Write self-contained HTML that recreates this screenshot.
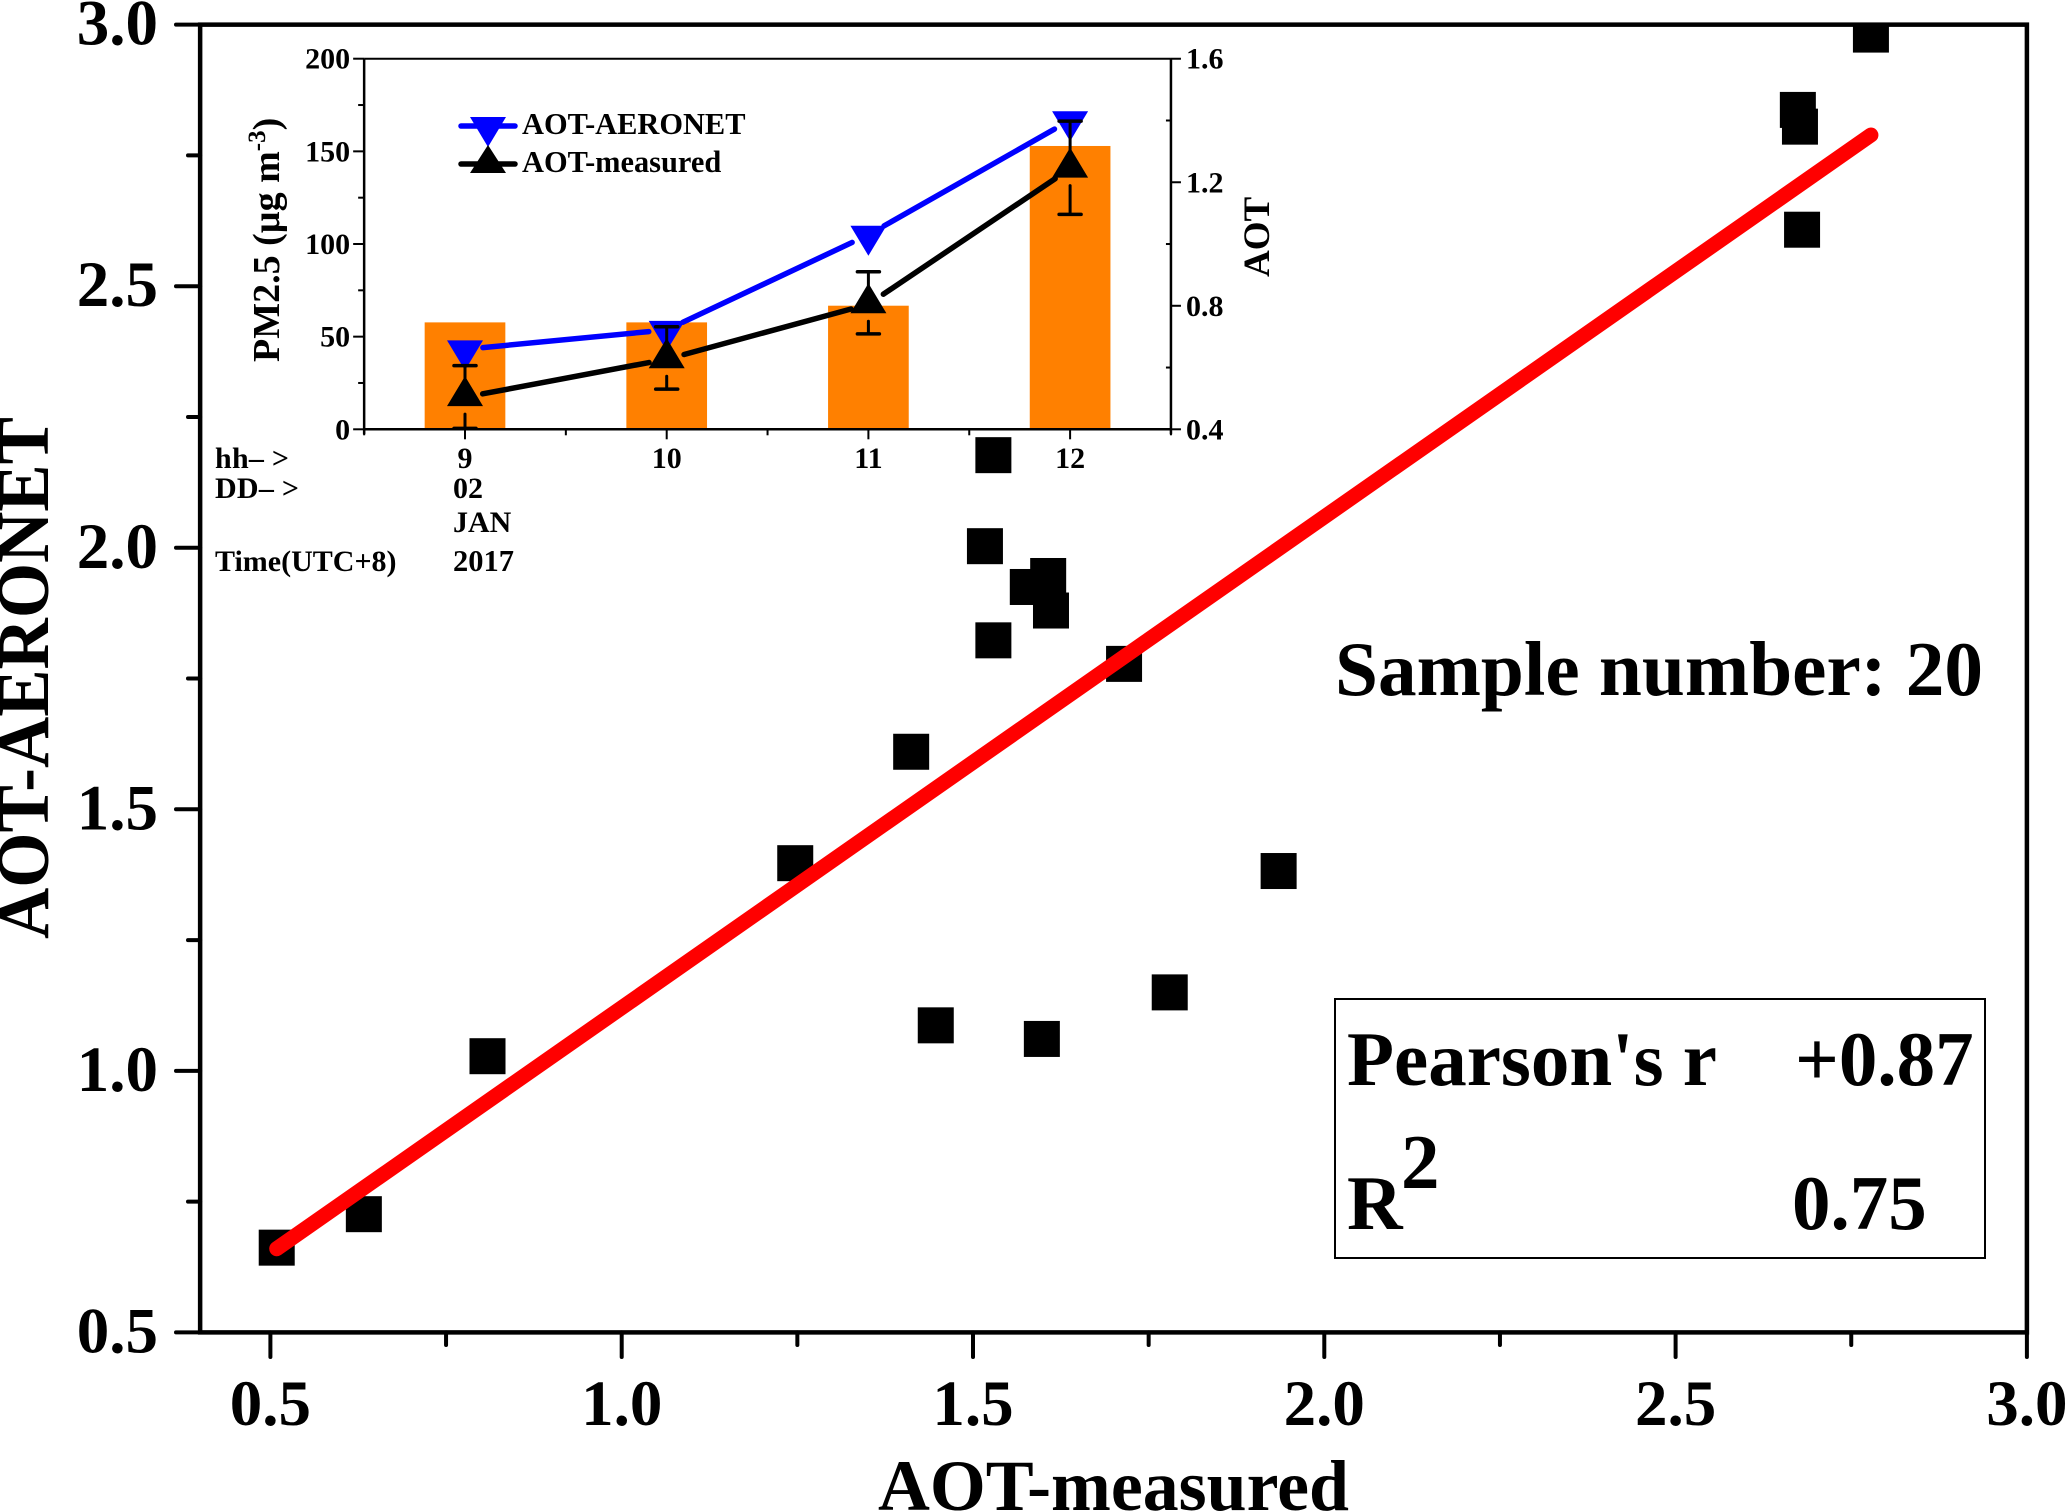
<!DOCTYPE html>
<html lang="en">
<head>
<meta charset="utf-8">
<title>AOT-measured vs AOT-AERONET scatter plot with inset</title>
<style>
html,body{margin:0;padding:0;background:#fff;}
body{width:2067px;height:1511px;overflow:hidden;}
svg{display:block;}
text{font-family:"Liberation Serif",serif;font-weight:bold;fill:#000;}
</style>
</head>
<body>
<svg id="chart" xmlns="http://www.w3.org/2000/svg" width="2067" height="1511" viewBox="0 0 2067 1511">
  <defs>
    <clipPath id="plot-clip"><rect x="200" y="24" width="1829" height="1309"></rect></clipPath>
  </defs>
  <rect x="0" y="0" width="2067" height="1511" fill="#fff"></rect>
  <g id="main-marks"></g>
  <g id="main-axes"></g>
  <g id="inset-bars"></g>
  <g id="inset-axes"></g>
  <g id="inset-lines"></g>

  <text transform="translate(48,939) rotate(-90)" font-size="74" textLength="522" lengthAdjust="spacingAndGlyphs">AOT-AERONET</text>
  <text x="878" y="1510" font-size="72" textLength="471" lengthAdjust="spacingAndGlyphs">AOT-measured</text>

  <text x="1335" y="695" font-size="77" textLength="648" lengthAdjust="spacingAndGlyphs">Sample number: 20</text>

  <rect x="1335" y="999" width="650" height="259" fill="none" stroke="#000" stroke-width="2"></rect>
  <text x="1347" y="1085" font-size="77">Pearson's r</text>
  <text x="1795" y="1085" font-size="77">+0.87</text>
  <text x="1347" y="1229" font-size="77">R</text>
  <text x="1401" y="1188" font-size="77">2</text>
  <text x="1792" y="1229" font-size="77">0.75</text>

  <text transform="translate(279,362) rotate(-90)" font-size="38">PM2.5 (µg m<tspan font-size="25" dy="-14">-3</tspan><tspan dy="14">)</tspan></text>
  <text transform="translate(1269,277) rotate(-90)" font-size="37">AOT</text>

  <text x="215" y="468" font-size="30" textLength="74" lengthAdjust="spacing">hh– &gt;</text>
  <text x="215" y="498" font-size="30" textLength="84" lengthAdjust="spacing">DD– &gt;</text>
  <text x="215" y="571" font-size="30">Time(UTC+8)</text>
  <text x="453" y="498" font-size="30">02</text>
  <text x="453" y="532" font-size="30">JAN</text>
  <text x="453" y="571" font-size="30.5">2017</text>

  <g id="legend">
    <line x1="461" y1="126" x2="515" y2="126" stroke="#0000ff" stroke-width="5.5" stroke-linecap="round"></line>
    <polygon points="470,117 506,117 488,147" fill="#0000ff"></polygon>
    <text x="522" y="134" font-size="30.4">AOT-AERONET</text>
    <line x1="461" y1="164" x2="515" y2="164" stroke="#000" stroke-width="5.5" stroke-linecap="round"></line>
    <polygon points="470,173 506,173 488,145" fill="#000"></polygon>
    <text x="522" y="172" font-size="30.4">AOT-measured</text>
  </g>
</svg>

<script>
// ---- main scatter data ----
const measuredValues = [0.509,0.633,0.809,1.247,1.412,1.447,1.517,1.529,1.529,1.578,1.598,1.607,1.611,1.715,1.780,1.935,2.674,2.677,2.680,2.778];
const aeronetValues  = [0.662,0.726,1.028,1.397,1.610,1.087,2.003,1.823,2.177,1.925,1.061,1.946,1.880,1.778,1.150,1.382,2.837,2.805,2.608,2.981];
const fitLineX = [0.509,2.778];
const fitLineY = [0.660,2.789];
const mainXTicks = ['0.5','1.0','1.5','2.0','2.5','3.0'];
const mainXMinorTicks = [0.75,1.25,1.75,2.25,2.75];
const mainYTicks = ['0.5','1.0','1.5','2.0','2.5','3.0'];
const mainYMinorTicks = [0.75,1.25,1.75,2.25,2.75];

// ---- inset data ----
const insetHours = [9,10,11,12];
const insetPm25 = [57.7,57.7,66.7,152.9];
const insetAotAeronet = [0.659,0.722,1.030,1.401];
const insetAotMeasured = [0.504,0.627,0.805,1.244];
const insetMeasuredUpper = [0.606,0.732,0.910,1.398];
const insetMeasuredLower = [0.403,0.530,0.709,1.096];
const insetPmTicks = [0,50,100,150,200];
const insetPmMinorTicks = [25,75,125,175];
const insetAotTicks = ['0.4','0.8','1.2','1.6'];
const insetAotMinorTicks = [0.6,1.0,1.4];
const insetHourMinorTicks = [8.5,9.5,10.5,11.5,12.5];

// ---- axis functions ----
const xMain = v => 270.4 + (v - 0.5) * 702.6;
const yMain = v => 1332.4 - (v - 0.5) * 523.1;
const xInset = v => 465 + (v - 9) * 201.7;
const yPm = v => 429.3 - v * 1.853;
const yAot = v => 429.3 - (v - 0.4) * 308.8;

const NS = 'http://www.w3.org/2000/svg';
function mk(tag, attrs) {
  const el = document.createElementNS(NS, tag);
  for (const k in attrs) el.setAttribute(k, attrs[k]);
  return el;
}
function addLine(parent, name, x1, y1, x2, y2, color, w, cap) {
  const el = mk('line', {x1, y1, x2, y2, stroke: color, 'stroke-width': w, 'stroke-linecap': cap || 'butt'});
  
  
  parent.appendChild(el);
  return el;
}
function addText(parent, name, x, y, size, anchor, str) {
  const el = mk('text', {x, y, 'font-size': size, 'text-anchor': anchor});
  el.textContent = str;
  
  
  parent.appendChild(el);
  return el;
}

// ---- main marks ----
const marks = document.getElementById('main-marks');
const pointsGroup = mk('g', {'clip-path': 'url(#plot-clip)'});


marks.appendChild(pointsGroup);
measuredValues.forEach((mv, i) => {
  const cx = xMain(mv), cy = yMain(aeronetValues[i]);
  const sq = mk('rect', {x: cx - 18, y: cy - 18, width: 36, height: 36, fill: '#000'});
  
  
  pointsGroup.appendChild(sq);
});
addLine(marks, 'fit-line', xMain(fitLineX[0]), yMain(fitLineY[0]), xMain(fitLineX[1]), yMain(fitLineY[1]), '#ff0000', 15, 'round');

// ---- main axes ----
const axes = document.getElementById('main-axes');
const frame = mk('rect', {x: xMain(0.4), y: yMain(3.0), width: xMain(3.0) - xMain(0.4), height: yMain(0.5) - yMain(3.0), fill: 'none', stroke: '#000', 'stroke-width': 4.5});


axes.appendChild(frame);
mainXTicks.forEach(t => {
  const v = parseFloat(t);
  addLine(axes, 'x-major-tick', xMain(v), yMain(0.5), xMain(v), 1357, '#000', 4, 'round');
  addText(axes, 'x-tick-label', xMain(v), 1425, 65, 'middle', t);
});
mainXMinorTicks.forEach(v => {
  addLine(axes, 'x-minor-tick', xMain(v), yMain(0.5), xMain(v), 1345, '#000', 4, 'round');
});
mainYTicks.forEach(t => {
  const v = parseFloat(t);
  addLine(axes, 'y-major-tick', 176, yMain(v), xMain(0.4), yMain(v), '#000', 4, 'round');
  addText(axes, 'y-tick-label', 158, yMain(v) + 20, 65, 'end', t);
});
mainYMinorTicks.forEach(v => {
  addLine(axes, 'y-minor-tick', 188, yMain(v), xMain(0.4), yMain(v), '#000', 4, 'round');
});

// ---- inset bars ----
const barsG = document.getElementById('inset-bars');
insetHours.forEach((h, i) => {
  const bx = xInset(h - 0.2), bw = xInset(h + 0.2) - bx;
  const bar = mk('rect', {x: bx, y: yPm(insetPm25[i]), width: bw, height: yPm(0) - yPm(insetPm25[i]), fill: '#ff8000'});
  
  
  barsG.appendChild(bar);
});

// ---- inset axes ----
const ia = document.getElementById('inset-axes');
const il = xInset(8.5), ir = xInset(12.5), it = yPm(200), ib = yPm(0);
addLine(ia, 'inset-top-axis', il, it, ir, it, '#000', 2);
addLine(ia, 'inset-bottom-axis', il, ib, ir, ib, '#000', 2.5);
addLine(ia, 'inset-left-axis', il, it, il, ib + 5, '#000', 2.5);
addLine(ia, 'inset-right-axis', ir, it, ir, ib + 5, '#000', 2.5);
insetHours.forEach(h => {
  addLine(ia, 'inset-x-major-tick', xInset(h), ib, xInset(h), ib + 10, '#000', 2);
  addText(ia, 'inset-x-tick-label', xInset(h), 468, 30, 'middle', String(h));
});
insetHourMinorTicks.forEach(h => {
  addLine(ia, 'inset-x-minor-tick', xInset(h), ib, xInset(h), ib + 6, '#000', 2);
});
insetPmTicks.forEach(v => {
  addLine(ia, 'inset-left-major-tick', il - 11, yPm(v), il, yPm(v), '#000', 2);
  addText(ia, 'inset-left-tick-label', il - 14, yPm(v) + 10, 30, 'end', String(v));
});
insetPmMinorTicks.forEach(v => {
  addLine(ia, 'inset-left-minor-tick', il - 6, yPm(v), il, yPm(v), '#000', 2);
});
insetAotTicks.forEach(t => {
  const v = parseFloat(t);
  addLine(ia, 'inset-right-major-tick', ir, yAot(v), ir + 10, yAot(v), '#000', 2);
  addText(ia, 'inset-right-tick-label', ir + 15, yAot(v) + 10, 30, 'start', t);
});
insetAotMinorTicks.forEach(v => {
  addLine(ia, 'inset-right-minor-tick', ir - 5, yAot(v), ir, yAot(v), '#000', 2);
});

// ---- inset series ----
const sg = document.getElementById('inset-lines');
const GAP = 18;
function drawSegments(values, color, name) {
  for (let i = 0; i < values.length - 1; i++) {
    const x1 = xInset(insetHours[i]), y1 = yAot(values[i]);
    const x2 = xInset(insetHours[i + 1]), y2 = yAot(values[i + 1]);
    const d = Math.hypot(x2 - x1, y2 - y1);
    const ux = (x2 - x1) / d, uy = (y2 - y1) / d;
    addLine(sg, name, x1 + ux * GAP, y1 + uy * GAP, x2 - ux * GAP, y2 - uy * GAP, color, 5.5, 'round');
  }
}
function drawMarker(cx, cy, down, color, name) {
  const pts = down
    ? [[cx - 18, cy - 9], [cx + 18, cy - 9], [cx, cy + 21]]
    : [[cx - 18, cy + 9], [cx + 18, cy + 9], [cx, cy - 21]];
  const el = mk('polygon', {points: pts.map(p => p.join(',')).join(' '), fill: color});
  
  
  sg.appendChild(el);
}
drawSegments(insetAotAeronet, '#0000ff', 'aeronet-line-segment');
drawSegments(insetAotMeasured, '#000', 'measured-line-segment');
insetHours.forEach((h, i) => {
  drawMarker(xInset(h), yAot(insetAotAeronet[i]), true, '#0000ff', 'aeronet-marker');
});
insetHours.forEach((h, i) => {
  const cx = xInset(h), cy = yAot(insetAotMeasured[i]);
  const yu = yAot(insetMeasuredUpper[i]), yl = yAot(insetMeasuredLower[i]);
  addLine(sg, 'measured-error-upper-stem', cx, yu, cx, cy - 17, '#000', 3);
  addLine(sg, 'measured-error-upper-cap', cx - 11, yu, cx + 11, yu, '#000', 3.5, 'round');
  addLine(sg, 'measured-error-lower-stem', cx, cy + 17, cx, yl, '#000', 3, 'round');
  addLine(sg, 'measured-error-lower-cap', cx - 11, yl, cx + 11, yl, '#000', 3.5, 'round');
  drawMarker(cx, cy, false, '#000', 'measured-marker');
});
</script>
</body>
</html>
